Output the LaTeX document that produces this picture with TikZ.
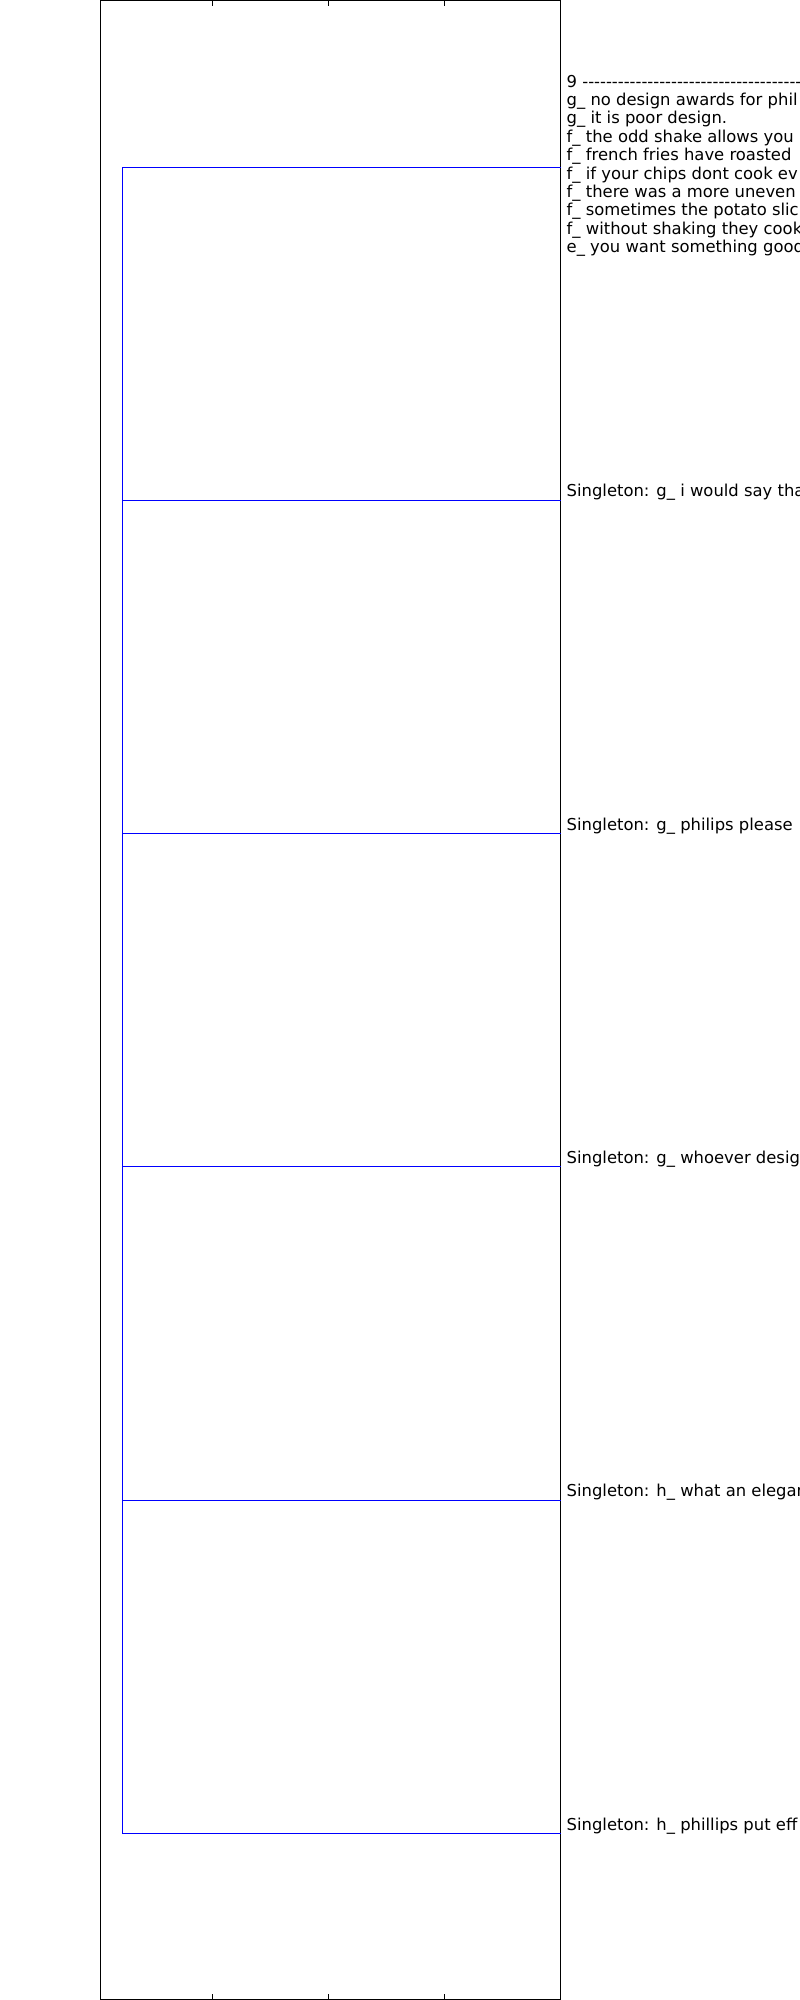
\documentclass[tikz,border=0pt]{standalone}
\usepackage{fontspec}
\setmainfont{DejaVu Sans}[Ligatures=TeXOff]
\begin{document}
\begin{tikzpicture}[x=1pt,y=-1pt,
  lbl/.style={anchor=base west,inner sep=0pt,font=\fontsize{16.4}{18.4}\selectfont},
  link/.style={draw={rgb,255:red,0;green,0;blue,255},line width=1pt},
  frame/.style={draw=black,line width=1.1pt},
  tick/.style={draw=black,line width=0.7pt}]
\useasboundingbox (0,0) rectangle (800,2000);
\clip (0,0) rectangle (800,2000);
\fill[white] (0,0) rectangle (800,2000);
% axes frame
\draw[frame] (100.5,0.5) rectangle (560.5,1999.5);
\foreach \tx in {212.7,328.3,444.3}{
  \draw[tick] (\tx,0) -- (\tx,6);
  \draw[tick] (\tx,2000) -- (\tx,1994);
}
% dendrogram
\coordinate (v1) at (122.3,167.3);
\coordinate (v2) at (122.3,500);
\coordinate (v3) at (122.3,833.3);
\coordinate (v4) at (122.3,1166.7);
\coordinate (v5) at (122.3,1500);
\coordinate (v6) at (122.3,1833.3);
\coordinate (e1) at (560.5,167.3);
\coordinate (e2) at (560.5,500);
\coordinate (e3) at (560.5,833.3);
\coordinate (e4) at (560.5,1166.7);
\coordinate (e5) at (560.5,1500);
\coordinate (e6) at (560.5,1833.3);
\draw[link] (e1) -- (v1) -- (v6) -- (e6);
\draw[link] (v2) -- (e2);
\draw[link] (v3) -- (e3);
\draw[link] (v4) -- (e4);
\draw[link] (v5) -- (e5);
% cluster text
\node[lbl] (c1) at (566.5,87) {9 ----------------------------------------};
\node[lbl] (c2) at (566.5,105.4) {g\_ no design awards for phil};
\node[lbl] (c3) at (566.5,123.8) {g\_ it is poor design.};
\node[lbl] (c4) at (566.5,142.2) {f\_ the odd shake allows you};
\node[lbl] (c5) at (566.5,160.6) {f\_ french fries have roasted};
\node[lbl] (c6) at (566.5,179.0) {f\_ if your chips dont cook ev};
\node[lbl] (c7) at (566.5,197.4) {f\_ there was a more uneven};
\node[lbl] (c8) at (566.5,215.8) {f\_ sometimes the potato slic};
\node[lbl] (c9) at (566.5,234.2) {f\_ without shaking they cook};
\node[lbl] (c10) at (566.5,252.6) {e\_ you want something good};
% singletons
\node[lbl] (s2) at (566.5,496.7) {Singleton: g\_ i would say tha};
\node[lbl] (s3) at (566.5,830) {Singleton: g\_ philips please};
\node[lbl] (s4) at (566.5,1163.3) {Singleton: g\_ whoever desig};
\node[lbl] (s5) at (566.5,1496.7) {Singleton: h\_ what an elegan};
\node[lbl] (s6) at (566.5,1830) {Singleton: h\_ phillips put eff};
\end{tikzpicture}
\end{document}
